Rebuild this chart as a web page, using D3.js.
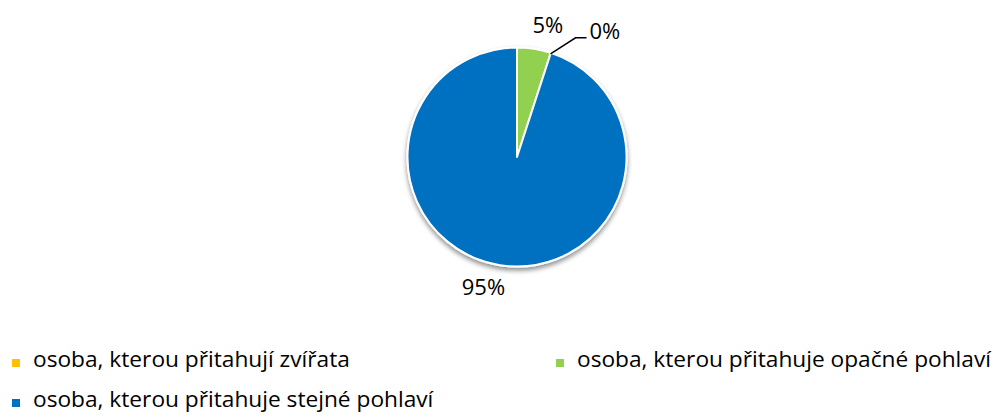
<!DOCTYPE html>
<html>
<head>
<meta charset="utf-8">
<script src="https://cdn.jsdelivr.net/npm/d3@7"></script>
<style>
  html, body { margin: 0; padding: 0; background: #fff; }
  svg { display: block; }
  text { font-family: "Open Sans", Lato, sans-serif; fill: #000; }
</style>
</head>
<body>
<svg id="chart" width="1005" height="415"></svg>
<script>
const categories = [
  "osoba, kterou přitahují zvířata",
  "osoba, kterou přitahuje opačné pohlaví",
  "osoba, kterou přitahuje stejné pohlaví"
];
const values = [0, 5, 95];
const labels = ["0%", "5%", "95%"];
const colors = ["#FFC000", "#92D050", "#0070C0"];
// order of slices clockwise from 12 o'clock
const sliceOrder = [1, 0, 2];

const svg = d3.select("#chart");
const cx = 517, cy = 157, r = 109.5;

const defs = svg.append("defs");
const f = defs.append("filter").attr("id", "shadow").attr("x", "-20%").attr("y", "-20%").attr("width", "140%").attr("height", "150%");
f.append("feGaussianBlur").attr("in", "SourceAlpha").attr("stdDeviation", 2.5).attr("result", "b");
f.append("feOffset").attr("in", "b").attr("dx", 0).attr("dy", 2.5).attr("result", "o");
f.append("feComponentTransfer").attr("in", "o").attr("result", "o2")
  .append("feFuncA").attr("type", "linear").attr("slope", 0.45);
const m = f.append("feMerge");
m.append("feMergeNode").attr("in", "o2");
m.append("feMergeNode").attr("in", "SourceGraphic");

const data = categories.map((c, i) => ({ name: c, value: values[i], label: labels[i], color: colors[i], idx: i }));
const pie = d3.pie().value(d => d.value)
  .sort((a, b) => sliceOrder.indexOf(a.idx) - sliceOrder.indexOf(b.idx));
const arcs = pie(data);
const arc = d3.arc().innerRadius(0).outerRadius(r);

const g = svg.append("g").attr("transform", `translate(${cx},${cy})`);
g.append("g").attr("filter", "url(#shadow)")
  .selectAll("path").data(arcs.filter(a => a.data.value > 0)).join("path")
  .attr("d", arc)
  .attr("fill", d => d.data.color)
  .attr("stroke", "#fff")
  .attr("stroke-width", 2)
  .attr("stroke-linejoin", "round");

// labels
const fs = 22;
arcs.forEach(a => {
  const mid = (a.startAngle + a.endAngle) / 2;
  if (a.data.idx === 2) {
    const p = d3.pointRadial(mid, r + 22);
    g.append("text").attr("x", p[0] - 13).attr("y", p[1] + 8)
      .attr("text-anchor", "middle").attr("font-size", fs).text(a.data.label);
  } else if (a.data.idx === 1) {
    const p = d3.pointRadial(mid, r + 17);
    g.append("text").attr("x", p[0] + 11).attr("y", p[1] + 1)
      .attr("text-anchor", "middle").attr("font-size", fs).text(a.data.label);
  } else {
    const p0 = d3.pointRadial(mid, r - 1);
    const p1 = [p0[0] + 25, p0[1] - 16];
    const p2 = [p1[0] + 11, p1[1]];
    g.append("polyline")
      .attr("points", [p0, p1, p2].map(p => p.join(",")).join(" "))
      .attr("fill", "none").attr("stroke", "#000").attr("stroke-width", 1.5);
    g.append("text").attr("x", p2[0] + 3).attr("y", p2[1] + 1)
      .attr("text-anchor", "start").attr("font-size", fs).text(a.data.label);
  }
});

// legend
const legendPos = [[12, 367], [556, 367], [12, 407]];
const lg = svg.append("g");
data.forEach((d, i) => {
  const [x, y] = legendPos[i];
  lg.append("rect").attr("x", x).attr("y", y - 8).attr("width", 8).attr("height", 8).attr("fill", d.color);
  lg.append("text").attr("x", x + 21).attr("y", y).attr("font-size", 22.7).text(d.name);
});
</script>
</body>
</html>
